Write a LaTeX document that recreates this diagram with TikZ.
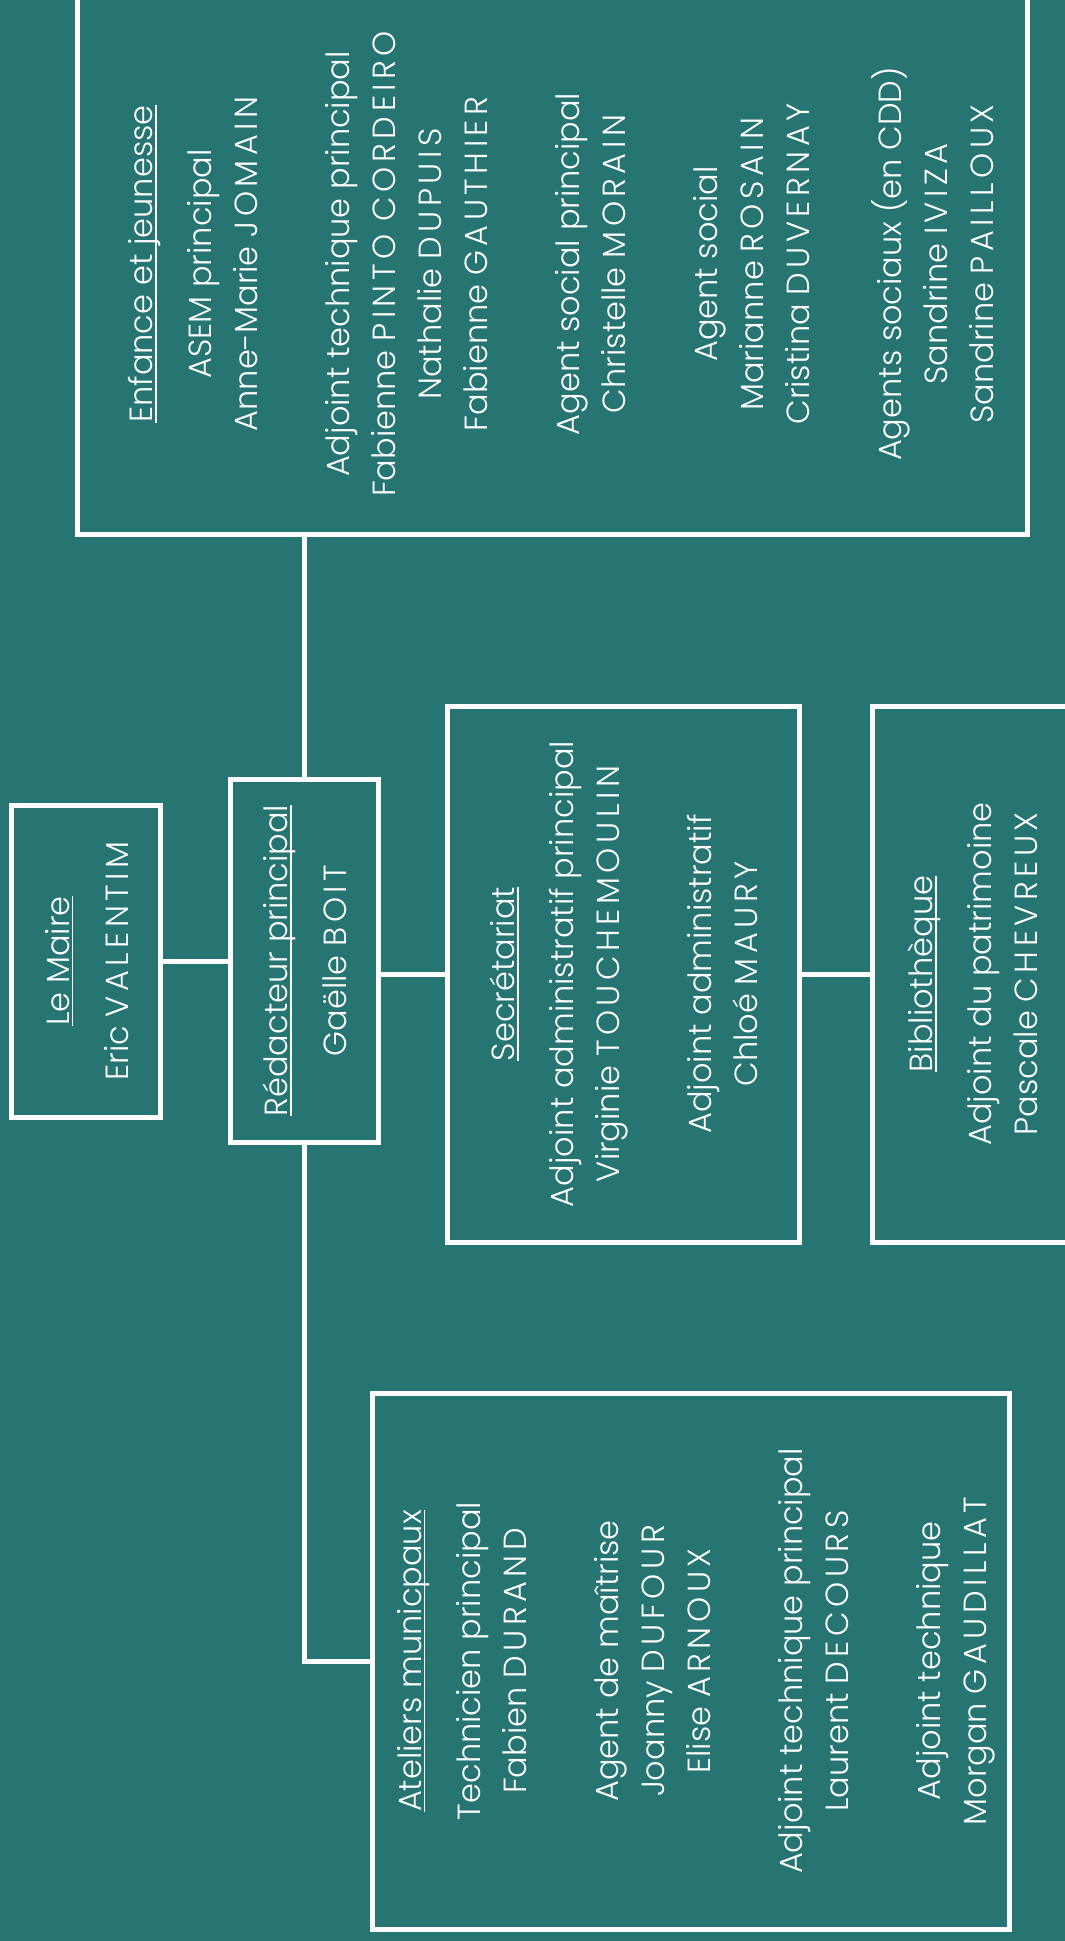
\documentclass[tikz,border=0pt]{standalone}
\usepackage{fontspec}
\setmainfont{Poppins Light}
\definecolor{tealbg}{HTML}{267573}
\newcommand{\hdr}[1]{\setbox0\hbox{#1}\rlap{\rule[-4pt]{\wd0}{1.6pt}}\box0}
\newcommand{\nm}[1]{{\addfontfeature{LetterSpace=14}#1}}
\newcommand{\vtext}[2][40pt]{\rotatebox{90}{\begin{tabular}{@{}c@{}}\rule{0pt}{#1}#2\end{tabular}}}
\tikzset{
  box/.style={draw=white, line width=5pt, text=white, inner sep=0pt, outer sep=0pt,
    font=\fontsize{32}{46}\selectfont},
  link/.style={draw=white, line width=5pt},
}
\begin{document}
\begin{tikzpicture}[x=1pt, y=-1pt]
\clip (0,0) rectangle (1065,1941);
\fill[tealbg] (0,0) rectangle (1065,1941);
\node[box, minimum width=149, minimum height=312] (P_maire) at (85.5,961) {\vtext{\hdr{Le Maire}\\[13pt] Eric \nm{VALENTIM}}};
\node[box, minimum width=148, minimum height=363] (P_redac) at (304,960.5) {\vtext{\hdr{Rédacteur principal}\\[13pt] Gaëlle \nm{BOIT}}};
\node[box, minimum width=950, minimum height=540] (P_enf) at (552,264) {\vtext[56pt]{\hdr{Enfance et jeunesse}\\[13pt] ASEM principal\\ Anne-Marie \nm{JOMAIN}\\[46pt]
  Adjoint technique principal\\ Fabienne \nm{PINTO CORDEIRO}\\ Nathalie \nm{DUPUIS}\\ Fabienne \nm{GAUTHIER}\\[46pt]
  Agent social principal\\ Christelle \nm{MORAIN}\\[46pt]
  Agent social\\ Marianne \nm{ROSAIN}\\ Cristina \nm{DUVERNAY}\\[46pt]
  Agents sociaux (en CDD)\\ Sandrine \nm{IVIZA}\\ Sandrine \nm{PAILLOUX}}};
\node[box, minimum width=352, minimum height=536] (P_sec) at (623,974) {\vtext{\hdr{Secrétariat}\\[13pt] Adjoint administratif principal\\ Virginie \nm{TOUCHEMOULIN}\\[46pt]
  Adjoint administratif\\ Chloé \nm{MAURY}}};
\node[box, minimum width=200, minimum height=536] (P_bib) at (972,974) {\vtext{\hdr{Bibliothèque}\\[13pt] Adjoint du patrimoine\\ Pascale \nm{CHEVREUX}}};
\node[box, minimum width=637, minimum height=536] (P_ate) at (690.5,1661) {\vtext{\hdr{Ateliers municpaux}\\[13pt] Technicien principal\\ Fabien \nm{DURAND}\\[46pt]
  Agent de maîtrise\\ Joanny \nm{DUFOUR}\\ Elise \nm{ARNOUX}\\[46pt]
  Adjoint technique principal\\ Laurent \nm{DECOURS}\\[46pt]
  Adjoint technique\\ Morgan \nm{GAUDILLAT}}};
\draw[link] (P_maire.east) -- (P_maire.east -| P_redac.west);
\draw[link] (P_redac.north) -- (P_redac.north |- P_enf.south);
\draw[link] (P_sec.west -| P_redac.east) -- (P_sec.west);
\draw[link] (P_sec.east) -- (P_bib.west);
\draw[link] (P_redac.south) -- (P_redac.south |- P_ate.west) -- (P_ate.west);
\end{tikzpicture}
\end{document}
